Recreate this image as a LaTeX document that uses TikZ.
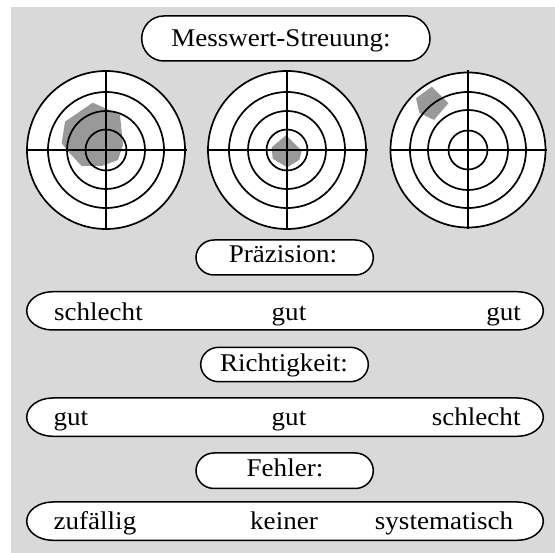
\documentclass[tikz,border=0pt]{standalone}
\usepackage{fontspec}
\setmainfont{Liberation Serif}[FakeStretch=1.06]
\definecolor{bggray}{RGB}{217,217,217}
\definecolor{blobgray}{RGB}{153,153,153}
\newcommand\pillshape[5]{%
  \draw[pill] ({#1+#5},#3) -- ({#2-#5},#3)
    arc[start angle=-90,end angle=90,x radius=#5,y radius={(#4-#3)/2}]
    -- ({#1+#5},#4)
    arc[start angle=90,end angle=270,x radius=#5,y radius={(#4-#3)/2}] -- cycle;}
\tikzset{
  pill/.style={draw=black, fill=white, line width=1.5pt},
  ring/.style={draw=black, line width=1.7pt},
  blob/.style={fill=blobgray, draw=none},
  lbl/.style={inner sep=0pt, font=\fontsize{25.5}{30}\selectfont},
}
\begin{document}
\begin{tikzpicture}[x=1pt,y=-1pt]
\useasboundingbox (0,0) rectangle (555,553);
\fill[bggray] (10.7,7.3) rectangle (555,553);

% title
\pillshape{141.7}{430}{16}{61}{22}
\node[lbl, anchor=base] (title) at (281,47) {Messwert-Streuung:};

% target A
\coordinate (ta) at (106,150);
\fill[white] (ta) circle[radius=79];
\fill[blob] (92.7,102.7) -- (120,115) -- (123,145) -- (118,160) -- (101.7,166) -- (81.7,166) -- (66.7,150) -- (61.7,143) -- (65,121.7) -- cycle;
\foreach \rr in {79,58,39,20.5} {\draw[ring] (ta) circle[radius=\rr];}
\draw[ring] ([yshift=-80]ta) -- ([yshift=80]ta);
\draw[ring] ([xshift=-80.5]ta) -- ([xshift=80.5]ta);

% target B
\coordinate (tb) at (287,150);
\fill[white] (tb) circle[radius=79];
\fill[blob] (286,135.3) -- (301.7,150.7) -- (299.3,160) -- (287.3,167.3) -- (272.7,158.7) -- (271.7,147.3) -- cycle;
\foreach \rr in {79,58,39,20.5} {\draw[ring] (tb) circle[radius=\rr];}
\draw[ring] ([yshift=-80]tb) -- ([yshift=80]tb);
\draw[ring] ([xshift=-80.5]tb) -- ([xshift=80.5]tb);

% target C
\coordinate (tc) at (468,150);
\fill[white] (tc) circle[radius=77.5];
\fill[blob] (431.7,86.7) -- (448.3,103.3) -- (434,120) -- (419.3,112.7) -- (416,98.3) -- cycle;
\foreach \rr in {77.5,58,40,19.5} {\draw[ring] (tc) circle[radius=\rr];}
\draw[ring] ([yshift=-79]tc) -- ([yshift=80]tc);
\draw[ring] ([xshift=-78.5]tc) -- ([xshift=79]tc);

% Praezision
\pillshape{196}{373.3}{240}{275}{18}
\node[lbl, anchor=base] (praez) at (283,263) {Präzision:};
\pillshape{26.7}{543.3}{291.7}{330}{26}
\node[lbl, anchor=base west] (p1) at (54,321) {schlecht};
\node[lbl, anchor=base] (p2) at (289,321) {gut};
\node[lbl, anchor=base east] (p3) at (521,321) {gut};

% Richtigkeit
\pillshape{200.7}{368.3}{347.3}{381.7}{18}
\node[lbl, anchor=base] (richt) at (284,372) {Richtigkeit:};
\pillshape{26.7}{543.3}{398}{436.3}{26}
\node[lbl, anchor=base west] (r1) at (53.5,426) {gut};
\node[lbl, anchor=base] (r2) at (289,426) {gut};
\node[lbl, anchor=base east] (r3) at (520.7,426) {schlecht};

% Fehler
\pillshape{196}{373.3}{453}{488.5}{18}
\node[lbl, anchor=base] (fehler) at (285,476.5) {Fehler:};
\pillshape{26.7}{543.3}{502}{540.3}{26}
\node[lbl, anchor=base west] (f1) at (53.5,529.5) {zufällig};
\node[lbl, anchor=base] (f2) at (284,529.5) {keiner};
\node[lbl, anchor=base east] (f3) at (513.3,529.5) {systematisch};
\end{tikzpicture}
\end{document}
